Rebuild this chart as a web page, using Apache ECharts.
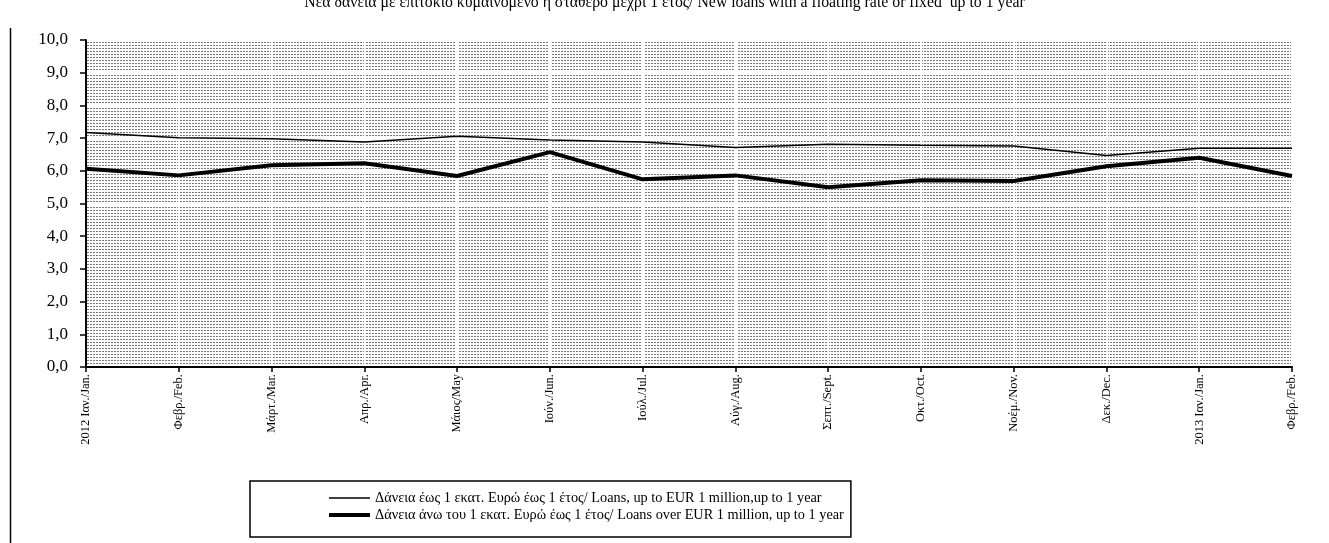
<!DOCTYPE html>
<html>
<head>
<meta charset="utf-8">
<script src="https://cdn.jsdelivr.net/npm/echarts@6/dist/echarts.min.js"></script>
<style>
html,body{margin:0;padding:0;background:#fff;}
#chart{width:1329px;height:543px;}
</style>
</head>
<body>
<div id="chart"></div>
<script>
const titleText = 'Νέα δάνεια με επιτόκιο κυμαινόμενο ή σταθερό μέχρι 1 έτος/ New loans with a floating rate or fixed  up to 1 year';
const categories = ['2012 Ιαν./Jan.','Φεβρ./Feb.','Μάρτ./Mar.','Απρ./Apr.','Μάιος/May','Ιούν./Jun.','Ιούλ./Jul.','Αύγ./Aug.','Σεπτ./Sept.','Οκτ./Oct.','Νοέμ./Nov.','Δεκ./Dec.','2013 Ιαν./Jan.','Φεβρ./Feb.'];
const seriesNames = [
  'Δάνεια έως 1 εκατ. Ευρώ έως 1 έτος/ Loans, up to EUR 1 million,up to 1 year',
  'Δάνεια άνω του 1 εκατ. Ευρώ έως 1 έτος/ Loans over EUR 1 million, up to 1 year'
];
const smallLoans = [7.17, 7.01, 6.98, 6.88, 7.06, 6.94, 6.88, 6.71, 6.81, 6.78, 6.76, 6.47, 6.69, 6.69];
const largeLoans = [6.06, 5.86, 6.17, 6.23, 5.84, 6.57, 5.74, 5.86, 5.50, 5.71, 5.69, 6.14, 6.40, 5.84];
const yMin = 0, yMax = 10, yStep = 1;

// dotted background pattern
const pc = document.createElement('canvas');
pc.width = 3; pc.height = 3;
const px = pc.getContext('2d');
px.fillStyle = '#ffffff'; px.fillRect(0,0,3,3);
px.fillStyle = '#7a7a7a';
px.fillRect(0,0,1,1);
px.fillRect(1,0,1,1);

const serif = '"Liberation Serif", "DejaVu Serif", serif';
const chart = echarts.init(document.getElementById('chart'), null, {renderer:'canvas'});
chart.setOption({
  animation:false,
  backgroundColor:'#ffffff',
  title:{
    text:titleText, left:'center', top:-10,
    textStyle:{fontFamily:serif, fontSize:15.8, fontWeight:'normal', color:'#000'}
  },
  graphic:[
    {type:'line', shape:{x1:10.5,y1:28,x2:10.5,y2:543}, style:{stroke:'#000', lineWidth:1.5}, silent:true}
  ],
  legend:{
    orient:'vertical', left:250, top:481,
    padding:[10,7,15,77],
    itemWidth:41, itemHeight:14, itemGap:3,
    borderColor:'#000', borderWidth:1.5, borderRadius:0,
    backgroundColor:'#fff',
    itemStyle:{opacity:0},
    textStyle:{fontFamily:serif, fontSize:14.3, color:'#000'},
    data:[
      {name:seriesNames[0], lineStyle:{width:1.5, color:'#000'}},
      {name:seriesNames[1], lineStyle:{width:4, color:'#000'}}
    ]
  },
  grid:{
    left:86, right:37, top:40, bottom:176,
    show:true, borderWidth:0,
    backgroundColor:{image:pc, repeat:'repeat'}
  },
  xAxis:{
    type:'category', data:categories, boundaryGap:false,
    axisLine:{lineStyle:{color:'#000', width:2}},
    axisTick:{show:true, alignWithLabel:true, length:5, lineStyle:{color:'#000', width:1.5}},
    axisLabel:{rotate:90, interval:0, color:'#000', fontFamily:serif, fontSize:12.5, margin:7},
    splitLine:{show:true, lineStyle:{color:'#ffffff', width:2}}
  },
  yAxis:{
    type:'value', min:yMin, max:yMax, interval:yStep,
    axisLine:{show:true, lineStyle:{color:'#000', width:2}},
    axisTick:{show:true, length:6, lineStyle:{color:'#000', width:1.5}},
    axisLabel:{color:'#000', fontFamily:serif, fontSize:17, margin:18,
      formatter:v=>v.toFixed(1).replace('.', ',')},
    splitLine:{show:true, lineStyle:{color:'#ffffff', width:2}}
  },
  series:[
    {name:seriesNames[0], type:'line', data:smallLoans, symbol:'none',
     lineStyle:{color:'#000', width:1.5}, itemStyle:{color:'#000'}},
    {name:seriesNames[1], type:'line', data:largeLoans, symbol:'none',
     lineStyle:{color:'#000', width:4}, itemStyle:{color:'#000'}}
  ]
});
</script>
</body>
</html>
